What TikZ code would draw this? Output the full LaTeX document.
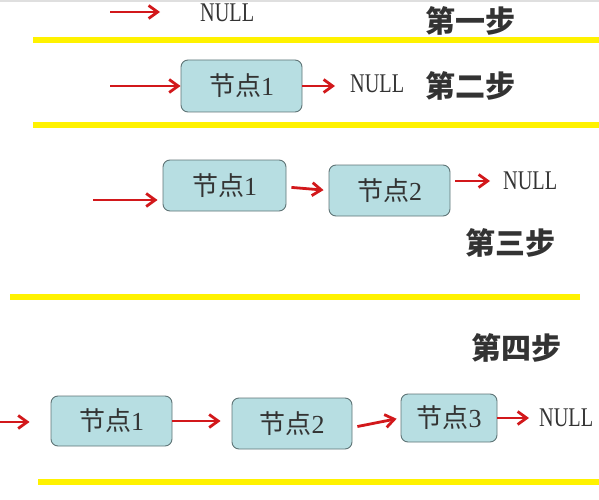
\documentclass[tikz,border=0pt]{standalone}
\usepackage{fontspec}
\setmainfont{Liberation Serif}
\newfontfamily\cjk{Noto Sans CJK SC}
\newfontfamily\nlfont[FakeStretch=0.75]{Liberation Serif}
\usetikzlibrary{arrows.meta}
\definecolor{boxfill}{HTML}{B7DEE2}
\definecolor{boxdraw}{HTML}{5F7476}
\definecolor{arrred}{HTML}{D2181B}
\definecolor{ylw}{HTML}{FFF200}
\definecolor{steptxt}{HTML}{333333}
\tikzset{
  lnode/.style={draw=boxdraw, fill=boxfill, rounded corners=7pt, line width=0.9pt,
     inner sep=0pt, font=\fontsize{26}{26}\selectfont, text=steptxt},
  nulltxt/.style={inner sep=0pt, font=\nlfont\fontsize{27}{27}\selectfont, text=steptxt},
  steplbl/.style={inner sep=0pt, font=\cjk\bfseries\fontsize{30}{30}\selectfont, text=steptxt},
  rarrow/.style={draw=arrred, line width=2.8pt, -{Straight Barb[length=9pt,width=13pt,line width=2.8pt]}},
  yline/.style={draw=ylw, line width=6pt}
}
\newcommand{\jd}[1]{{\cjk 节点}#1}
\begin{document}
\begin{tikzpicture}[x=1pt,y=-1pt]
\useasboundingbox (0,0) rectangle (599,500);
\draw[gray!25, line width=1.5pt] (0,1) -- (599,1);
% yellow separators
\coordinate (y1a) at (33,40); \coordinate (y1b) at (599,40);
\coordinate (y2a) at (33,125); \coordinate (y2b) at (599,125);
\coordinate (y3a) at (10,297); \coordinate (y3b) at (580,297);
\coordinate (y4a) at (38,482); \coordinate (y4b) at (599,482);
\draw[yline] (y1a) -- (y1b);
\draw[yline] (y2a) -- (y2b);
\draw[yline] (y3a) -- (y3b);
\draw[yline] (y4a) -- (y4b);
% step 1
\coordinate (a1) at (110,12);
\node[nulltxt, anchor=west] (null1) at (200,13) {NULL};
\node[steplbl] (s1) at (470,21) {第一步};
\draw[rarrow, shorten >=40pt] (a1) -- (a1 -| null1.west);
% step 2
\node[lnode, minimum width=121pt, minimum height=52pt] (b21) at (241.5,86) {\jd{1}};
\coordinate (a2) at (110,86);
\node[nulltxt, anchor=west] (null2) at (350,84) {NULL};
\node[steplbl] (s2) at (470,86) {第二步};
\draw[rarrow] (a2) -- (b21.west);
\draw[rarrow, shorten >=15pt] (b21.east) -- (b21.east -| null2.west);
% step 3
\node[lnode, minimum width=123pt, minimum height=51pt] (b31) at (224.5,185.5) {\jd{1}};
\node[lnode, minimum width=121pt, minimum height=51pt] (b32) at (389.5,190.5) {\jd{2}};
\coordinate (a3) at (93,200);
\node[nulltxt, anchor=west] (null3) at (503,181) {NULL};
\node[steplbl] (s3) at (510,243) {第三步};
\draw[rarrow, shorten >=5pt] (a3) -- (a3 -| b31.west);
\draw[rarrow, shorten <=5pt, shorten >=5pt] ([yshift=-1.5pt]b31.east) -- (b32.west);
\draw[rarrow, shorten <=5pt, shorten >=13pt] (b32.east |- null3.west) -- (null3.west);
% step 4
\node[steplbl] (s4) at (516,348) {第四步};
\node[lnode, minimum width=121pt, minimum height=50pt] (b41) at (111.5,421) {\jd{1}};
\node[lnode, minimum width=120pt, minimum height=51pt] (b42) at (292,423.5) {\jd{2}};
\node[lnode, minimum width=96pt, minimum height=48pt] (b43) at (449,418) {\jd{3}};
\coordinate (a4) at (0,422);
\node[nulltxt, anchor=west] (null4) at (539,418) {NULL};
\draw[rarrow, shorten >=21pt] (a4) -- (a4 -| b41.west);
\draw[rarrow, shorten >=11pt] (b41.east) -- (b41.east -| b42.west);
\draw[rarrow, shorten <=5pt, shorten >=4pt] ([yshift=-4pt]b42.east) -- (b43.west);
\draw[rarrow, shorten >=10pt] (b43.east) -- (b43.east -| null4.west);
\end{tikzpicture}
\end{document}
